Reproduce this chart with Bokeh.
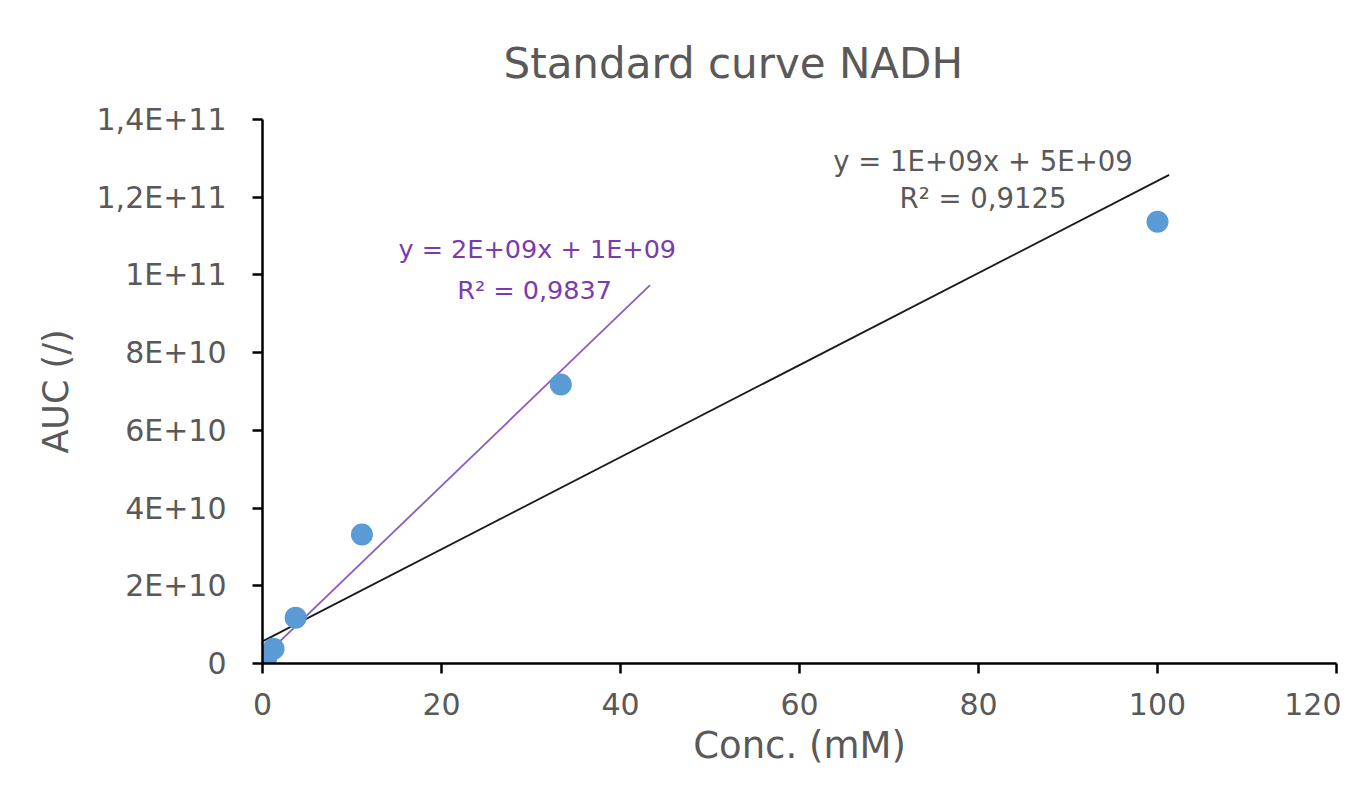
from bokeh.plotting import figure
from bokeh.models import Range1d, FixedTicker, Label, Title
from bokeh.embed import file_html
from bokeh.resources import INLINE

# ---- data ----
conc_mM = [0.0, 0.137, 0.412, 1.235, 3.704, 11.11, 33.33, 100.0]
auc = [0.0, 4.0e8, 1.2e9, 3.8e9, 1.18e10, 3.32e10, 7.18e10, 1.137e11]

# trendline over all points (black) and over the first 7 points (purple)
all_fit_slope = 1.185e9
all_fit_intercept = 5.7e9
all_fit_x_range = [0.0, 101.3]
low_fit_slope = 2.216e9
low_fit_intercept = 1.4e9
low_fit_x_range = [0.0, 43.3]

all_fit_text = ["y = 1E+09x + 5E+09", "R² = 0,9125"]
low_fit_text = ["y = 2E+09x + 1E+09", "R² = 0,9837"]

x_ticks = [0, 20, 40, 60, 80, 100, 120]
x_tick_labels = ["0", "20", "40", "60", "80", "100", "120"]
y_ticks = [0, 2e10, 4e10, 6e10, 8e10, 1e11, 1.2e11, 1.4e11]
y_tick_labels = ["0", "2E+10", "4E+10", "6E+10", "8E+10", "1E+11", "1,2E+11", "1,4E+11"]

title_text = "Standard curve NADH"
x_label = "Conc. (mM)"
y_label = "AUC (/)"

# ---- styling ----
FONT = "DejaVu Sans"
GREY = "#595959"
BLUE = "#5B9BD5"
PURPLE_LINE = "#8B5CC4"
PURPLE_TEXT = "#7A3BB0"

p = figure(width=1341, height=780, output_backend="svg", toolbar_location=None,
           x_range=Range1d(0, 120), y_range=Range1d(0, 1.4e11),
           min_border_left=262, min_border_right=5, min_border_top=119, min_border_bottom=117)
p.title = None
p.add_layout(Title(text=title_text, align="left", offset=241, text_font=FONT,
                   text_font_size="42px", text_font_style="normal", text_color=GREY,
                   standoff=64), "above")

p.outline_line_color = None
p.xgrid.visible = False
p.ygrid.visible = False
p.background_fill_color = "white"
p.border_fill_color = "white"

for ax in (p.xaxis[0], p.yaxis[0]):
    ax.axis_line_color = "black"
    ax.axis_line_width = 2.5
    ax.major_tick_line_color = "black"
    ax.major_tick_line_width = 2.5
    ax.major_tick_out = 10
    ax.major_tick_in = 0
    ax.minor_tick_line_color = None
    ax.major_label_text_font = FONT
    ax.major_label_text_font_size = "30px"
    ax.major_label_text_color = GREY
    ax.axis_label_text_font = FONT
    ax.axis_label_text_font_style = "normal"
    ax.axis_label_text_color = GREY

p.xaxis.axis_label_text_font_size = "37px"
p.yaxis.axis_label_text_font_size = "35px"

p.xaxis.ticker = FixedTicker(ticks=x_ticks)
p.xaxis.major_label_overrides = {t: l for t, l in zip(x_ticks, x_tick_labels)}
p.xaxis.axis_label = x_label
p.xaxis.major_label_standoff = 19
p.xaxis.axis_label_standoff = 6

p.yaxis.ticker = FixedTicker(ticks=y_ticks)
p.yaxis.major_label_overrides = {t: l for t, l in zip(y_ticks, y_tick_labels)}
p.yaxis.axis_label = y_label
p.yaxis.major_label_standoff = 26
p.yaxis.axis_label_standoff = 18

# trendlines
ax_x = all_fit_x_range
p.line(ax_x, [all_fit_slope * x + all_fit_intercept for x in ax_x],
       line_color="#1a1a1a", line_width=1.8)
lo_x = low_fit_x_range
p.line(lo_x, [low_fit_slope * x + low_fit_intercept for x in lo_x],
       line_color=PURPLE_LINE, line_width=1.8)

# data points
p.scatter(conc_mM, auc, size=22, fill_color=BLUE, line_color=None)

# trendline labels
for txt, xx, yy in zip(all_fit_text, [80.5, 80.5], [1.293e11, 1.197e11]):
    p.add_layout(Label(x=xx, y=yy, text=txt, text_align="center", text_baseline="middle",
                       text_font=FONT, text_font_size="27.5px", text_color=GREY))
for txt, xx, yy in zip(low_fit_text, [30.7, 30.4], [1.068e11, 9.61e10]):
    p.add_layout(Label(x=xx, y=yy, text=txt, text_align="center", text_baseline="middle",
                       text_font=FONT, text_font_size="25.5px", text_color=PURPLE_TEXT))

open("out.html", "w").write(file_html(p, INLINE))
